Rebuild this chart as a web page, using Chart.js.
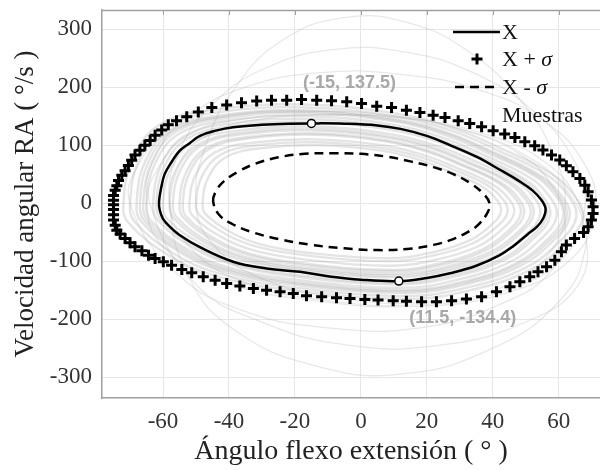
<!DOCTYPE html>
<html><head><meta charset="utf-8">
<script src="https://cdn.jsdelivr.net/npm/chart.js@4"></script>
<style>html,body{margin:0;padding:0;background:#fff}</style>
</head><body>
<canvas id="c" width="600" height="470"></canvas>
<script>
// ---- data ----
const xTicks = [-60, -40, -20, 0, 20, 40, 60];
const yTicks = [-300, -200, -100, 0, 100, 200, 300];

// closed loops (last point joins back to first)
const meanCurve = [[-61.2,3],[-60.5,28],[-59.5,50],[-57.5,70],[-55,90],[-52,103],[-48.8,116],[-44,125],[-38.7,131],[-30,135],[-22,137],[-15,137.5],[-5,137],[5,134],[12,128],[20,116],[27,100],[35,80],[42,58],[48,38],[52,22],[54.8,5],[56,-10],[55.3,-26],[53.5,-40],[50.5,-54],[46,-75],[42,-90],[35,-108],[27,-121],[20,-129],[11.5,-134.4],[0,-132],[-10,-126],[-18.5,-118.5],[-28.6,-112.6],[-38.7,-101],[-48.8,-76],[-55,-55],[-58,-40],[-60,-27],[-61,-12]];

const minusSigma = [[-44.8,3],[-44,20],[-41.5,38],[-37,55],[-32,68],[-25,79],[-17,85],[-8,86],[0,85],[8,80],[15,72],[22,62],[28,50],[33,35],[37,17],[39,0],[38.5,-15],[36,-35],[33,-48],[28,-62],[22,-72],[14,-79],[5,-81],[-5,-78],[-15,-72],[-25,-62],[-33,-50],[-39,-36],[-43,-20]];

const plusSigma = [[-75,-3],[-75,5],[-75,13],[-74.5,22],[-74,30],[-73.5,39],[-72.5,48],[-71.5,56],[-70.5,65],[-69.5,74],[-68.5,83],[-67,91],[-65.5,100],[-63.9,108],[-62.4,117],[-60.4,126],[-58.4,135],[-55.9,142],[-52.8,149],[-49.3,157],[-45.2,165],[-40.7,169],[-36.2,173],[-31.6,176],[-27.1,177.6],[-22.5,177.6],[-18,178.8],[-13.4,177.6],[-8.9,176.4],[-4.3,174.7],[0.2,171.8],[4.8,167.2],[9.3,164.9],[13.8,160.3],[17.9,156.3],[21.9,151.7],[25.5,147.7],[29.5,142],[33,137.4],[36.6,131.6],[40.1,124.7],[43.6,119],[46.7,113.2],[49.7,105.7],[52.7,98.9],[55.2,91.4],[57.8,82.8],[60.3,74.2],[62.3,64.4],[64.3,54],[66.4,42.5],[67.9,31],[68.9,19.5],[69.9,5.2],[70.4,-6.3],[70.4,-17.8],[69.9,-29.3],[68.9,-40.8],[67.5,-50.5],[64.8,-60.9],[62.3,-72.4],[60.8,-83.9],[58.8,-98.3],[56.3,-109.8],[53.7,-118.4],[51.2,-127],[48.2,-135.6],[45.2,-144.3],[41.1,-152.9],[36.6,-161.5],[32,-165.5],[27.5,-168.4],[22.9,-170.1],[18.4,-170.1],[13.8,-169],[9.8,-168.4],[5.2,-167.2],[1.2,-166.1],[-3.3,-164.4],[-7.4,-163.2],[-11.9,-161.5],[-16.5,-159.8],[-20.5,-155.7],[-24.5,-152.9],[-28.6,-150],[-32.6,-147.1],[-36.7,-143.1],[-40.7,-138.5],[-44.2,-132.8],[-47.8,-127],[-51.3,-120.1],[-54.3,-114.4],[-57.4,-106.9],[-59.9,-101.1],[-62.4,-95.4],[-64.4,-89.7],[-66.4,-82.2],[-68.5,-75.3],[-70,-68.4],[-71.5,-60.9],[-73,-53.4],[-74,-46.6],[-74.5,-38],[-75,-29],[-75,-20],[-75,-11]];

// individual sample cycles ("Muestras")
const sampleA = [[-66,0],[-63.4,70],[-55.8,124],[-40.4,147],[-16.1,155],[10.8,140],[26.2,116],[39,85],[51.8,50],[58.2,19],[61.4,-22],[55.6,-67.5],[46.6,-105],[31.3,-135],[13.4,-150],[-21.2,-135],[-40.4,-114],[-53.2,-82],[-64.7,-30]];
const sampleB = [[-52,0],[-50,50],[-44.1,88],[-32.2,104.5],[-13.4,110],[7.4,99],[19.3,82.5],[29.2,60.5],[39.1,35],[44,13],[46.5,-16],[42.1,-48.6],[35.1,-75.6],[23.2,-97],[9.4,-108],[-17.4,-97],[-32.2,-82],[-42.1,-59],[-51,-22]];
const sampleC = [[-70,0],[-67.3,74],[-59.1,132],[-42.8,157],[-17,165],[11.6,148.5],[27.9,124],[41.5,91],[55.1,53],[61.9,20],[65.3,-24],[59.2,-72],[49.7,-112],[33.4,-144],[14.3,-160],[-22.4,-144],[-42.8,-121.6],[-56.4,-88],[-68.6,-32]];
const sampleD = [[-57,0],[-54.8,56],[-48.3,100],[-35.2,119],[-14.5,125],[8.4,112.5],[21.5,94],[32.4,69],[43.3,40],[48.7,15],[51.5,-18],[46.6,-55],[38.9,-85],[25.8,-110],[10.6,-122],[-18.9,-110],[-35.2,-92.7],[-46.1,-67],[-55.9,-24]];
const sampleE = [[-63,0],[-60.6,65],[-53.3,116],[-38.8,138],[-15.8,145],[9.6,130.5],[24.1,109],[36.2,80],[48.3,46],[54.4,17],[57.4,-21],[52,-63],[43.5,-98],[29,-126],[12,-140],[-20.7,-126],[-38.8,-106],[-50.9,-77],[-61.8,-28]];
const sampleF = [[-48,0],[-46.2,45],[-40.7,80],[-29.8,95],[-12.5,100],[6.6,90],[17.5,75],[26.6,55],[35.7,32],[40.3,12],[42.5,-14],[38.5,-43],[32.1,-66.5],[21.2,-85.5],[8.4,-95],[-16.2,-85.5],[-29.8,-72],[-38.9,-52],[-47.1,-19]];
const sampleG = [[-68,0],[-65.4,72],[-57.4,128],[-41.6,152],[-16.5,160],[11.2,144],[27,120],[40.2,88],[53.4,51],[60,19],[63.3,-23],[57.4,-70],[48.2,-108.5],[32.3,-139.5],[13.8,-155],[-21.8,-139.5],[-41.6,-118],[-54.8,-85],[-66.7,-31]];
const sampleH = [[-60,0],[-57.7,59],[-50.8,106],[-37,125],[-15.2,132],[9,119],[22.8,99],[34.3,73],[45.8,42],[51.6,16],[54.4,-19],[49.3,-57.6],[41.2,-90],[27.4,-115],[11.3,-128],[-19.8,-115],[-37,-97],[-48.5,-70],[-58.9,-26]];
const sampleI = [[-54,0],[-51.9,53],[-45.8,94],[-33.4,112],[-13.8,118],[7.8,106],[20.2,88.5],[30.5,65],[40.8,38],[45.9,14],[48.5,-17],[43.9,-51.8],[36.6,-80.5],[24.3,-103.5],[9.9,-115],[-17.9,-103.5],[-33.4,-87.4],[-43.7,-63],[-53,-23]];
const sampleJ = [[-72,0],[-69.2,76],[-60.8,136],[-44,161.5],[-17.4,170],[12,153],[28.8,127.5],[42.8,93.5],[56.8,54],[63.8,20],[67.3,-25],[61,-74],[51.2,-115.5],[34.4,-148.5],[14.8,-165],[-23,-148.5],[-44,-125.4],[-58,-91],[-70.6,-33]];
const sampleK = [[-65,0],[-62.5,67.5],[-55,120],[-40,142.5],[-16.3,150],[10,135],[25,112.5],[37.5,82.5],[50,48],[56.3,18],[59.4,-22],[53.8,-65.7],[45,-102],[30,-131],[12.5,-146],[-21.3,-131],[-40,-111],[-52.5,-80],[-63.8,-29]];
const sampleL = [[-50,0],[-48.1,47],[-42.4,84],[-31,100],[-13,105],[7,94.5],[18.4,79],[27.9,58],[37.4,34],[42.2,12.6],[44.5,-15],[40.3,-45],[33.6,-70],[22.2,-90],[8.9,-100],[-16.8,-90],[-31,-76],[-40.5,-55],[-49,-20]];
const sampleM = [[-62,0],[-59.6,63],[-52.5,112],[-38.2,133],[-15.6,140],[9.4,126],[23.7,105],[35.6,77],[47.5,45],[53.4,17],[56.4,-20.5],[51,-61.7],[42.7,-96],[28.4,-123],[11.8,-137],[-20.4,-123],[-38.2,-104],[-50.1,-75],[-60.8,-27]];
const sampleN = [[-58,0],[-55.8,57.6],[-49.1,102],[-35.8,121.6],[-14.7,128],[8.6,115],[21.9,96],[33,70.4],[44.1,41],[49.7,15.4],[52.4,-18.8],[47.5,-56],[39.7,-87.5],[26.4,-112.5],[10.8,-125],[-19.2,-112.5],[-35.8,-95],[-46.9,-69],[-56.9,-25]];
const sampleO = [[-67,0],[-64.4,71],[-56.6,126],[-41,150],[-16.3,158],[11,142],[26.6,118.5],[39.6,87],[52.6,50.5],[59.1,19],[62.4,-23],[56.5,-68.4],[47.4,-106],[31.8,-137],[13.6,-152],[-21.5,-137],[-41,-115.5],[-54,-84],[-65.7,-30]];
const sampleP = [[-55,0],[-52.9,54],[-46.6,96],[-34,114],[-14,120],[8,108],[20.6,90],[31.1,66],[41.6,38.4],[46.9,14.4],[49.5,-17.7],[44.8,-53],[37.4,-82.6],[24.8,-106],[10.1,-118],[-18.3,-106],[-34,-89.7],[-44.5,-65],[-54,-23.6]];
const sampleQ = [[-50,0],[-47,100],[-38,200],[-24,280],[-5,320],[15,310],[33,260],[48,180],[58,90],[62,0],[58,-80],[45,-140],[22,-170],[-5,-165],[-30,-130],[-45,-70]];
const sampleR = [[-58,0],[-55,90],[-45,170],[-30,230],[-8,265],[14,260],[34,225],[52,160],[64,80],[68,0],[62,-90],[44,-150],[18,-175],[-10,-168],[-36,-135],[-52,-75]];
const sampleS = [[-65,0],[-62,85],[-52,150],[-35,200],[-12,225],[12,222],[36,195],[56,140],[68,65],[71,-10],[64,-95],[44,-155],[16,-178],[-14,-168],[-42,-135],[-60,-75]];
const sampleT = [[-58,0],[-55,70],[-46,118],[-30,145],[-8,152],[16,145],[38,118],[56,70],[66,0],[68,-80],[60,-170],[40,-250],[12,-295],[-14,-280],[-38,-220],[-52,-130]];
const sampleU = [[-64,0],[-61,65],[-52,118],[-36,145],[-14,152],[10,148],[32,125],[50,82],[62,25],[68,-50],[66,-140],[50,-205],[24,-245],[-4,-245],[-30,-205],[-50,-140]];
const sampleV = [[-70,0],[-67,70],[-58,122],[-40,150],[-16,158],[8,152],[30,128],[48,85],[58,30],[62,-40],[58,-115],[42,-175],[18,-215],[-10,-215],[-36,-185],[-56,-120]];
const bandSamples = [sampleA,sampleB,sampleC,sampleD,sampleE,sampleF,sampleG,sampleH,sampleI,sampleJ,sampleK,sampleL,sampleM,sampleN,sampleO,sampleP];
const outlierSamples = [sampleQ,sampleR,sampleS,sampleT,sampleU,sampleV];

const markedPoints = [[-15,137.5],[11.5,-134.4]];
const markedLabels = ['(-15, 137.5)', '(11.5, -134.4)'];
const legendLabels = ['X', 'X + σ', 'X - σ', 'Muestras'];

// ---- chart ----
const pts = a => a.map(([x,y]) => ({x, y}));
const SERIF = "'Liberation Serif', 'Times New Roman', serif";
Chart.defaults.font.family = SERIF;

const datasets = [
  { label: 'marked', data: pts(markedPoints), showLine: false, pointRadius: 4, pointStyle: 'circle',
    pointBackgroundColor: '#fff', pointBorderColor: '#000', pointBorderWidth: 1.5, order: 0 },
  { label: legendLabels[1], data: pts(plusSigma), showLine: false, pointStyle: 'cross', pointRadius: 5.5,
    pointBorderWidth: 3, pointBorderColor: '#000', pointBackgroundColor: '#000', order: 1 },
  { label: legendLabels[0], data: pts(meanCurve), showLine: true, pointRadius: 0, borderColor: '#000',
    borderWidth: 2.5, tension: 0.4, order: 2, closed: true },
  { label: legendLabels[2], data: pts(minusSigma), showLine: true, pointRadius: 0, borderColor: '#000',
    borderWidth: 2.5, borderDash: [9, 6], tension: 0.4, order: 3, closed: true },
];
bandSamples.forEach((s, i) => datasets.push({
  label: legendLabels[3], data: pts(s), showLine: true, pointRadius: 0,
  borderColor: 'rgba(165,165,165,0.3)', borderWidth: 2.4, tension: 0.4, order: 10 + i, closed: true
}));
outlierSamples.forEach((s, i) => datasets.push({
  label: legendLabels[3], data: pts(s), showLine: true, pointRadius: 0,
  borderColor: 'rgba(190,190,190,0.35)', borderWidth: 1.3, tension: 0.45, order: 40 + i, closed: true
}));

const closeLoops = {
  id: 'closeLoops',
  afterDatasetsUpdate(chart) {
    chart.data.datasets.forEach((ds, i) => {
      if (!ds.closed) return;
      const line = chart.getDatasetMeta(i).dataset;
      if (!line) return;
      line._loop = true; line._fullLoop = true;
      delete line._segments; delete line._path; line._pointsUpdated = false;
    });
  }
};

const overlay = {
  id: 'overlay',
  afterDraw(chart) {
    const {ctx, chartArea: a, scales: {x, y}} = chart;
    ctx.save();
    ctx.strokeStyle = '#a0a0a0'; ctx.lineWidth = 1.5;
    ctx.beginPath(); ctx.moveTo(a.left, a.top + 0.5); ctx.lineTo(a.right, a.top + 0.5); ctx.stroke();
    ctx.lineWidth = 1;
    xTicks.forEach(v => { const px = Math.round(x.getPixelForValue(v)) + 0.5;
      ctx.beginPath(); ctx.moveTo(px, a.top); ctx.lineTo(px, a.top + 5); ctx.stroke(); });
    // annotation labels
    ctx.fillStyle = '#a8a8a8';
    ctx.font = "bold 18px 'Liberation Sans', Arial, sans-serif";
    ctx.textAlign = 'center'; ctx.textBaseline = 'middle';
    const offs = [[38, -40], [64, 37]];
    markedPoints.forEach(([vx, vy], i) => {
      ctx.fillText(markedLabels[i], x.getPixelForValue(vx) + offs[i][0], y.getPixelForValue(vy) + offs[i][1]);
    });
    // legend
    ctx.fillStyle = '#111'; ctx.strokeStyle = '#000';
    ctx.textAlign = 'left';
    const tx = 502;
    const rows = [32, 59, 87, 115];
    ctx.lineWidth = 2.5; ctx.setLineDash([]);
    ctx.beginPath(); ctx.moveTo(453, rows[0]); ctx.lineTo(500, rows[0]); ctx.stroke();
    ctx.lineWidth = 3;
    ctx.beginPath(); ctx.moveTo(471.5, rows[1]); ctx.lineTo(482.5, rows[1]);
    ctx.moveTo(477, rows[1] - 5.5); ctx.lineTo(477, rows[1] + 5.5); ctx.stroke();
    ctx.lineWidth = 2.5; ctx.setLineDash([9, 6]);
    ctx.beginPath(); ctx.moveTo(455, rows[2]); ctx.lineTo(500, rows[2]); ctx.stroke();
    ctx.setLineDash([]);
    const drawLabel = (txt, yy) => {
      const idx = txt.indexOf('σ');
      ctx.font = "22px " + SERIF;
      if (idx < 0) { ctx.fillText(txt, tx, yy); return; }
      const pre = txt.slice(0, idx);
      ctx.fillText(pre, tx, yy);
      const w = ctx.measureText(pre).width;
      ctx.font = "italic 22px " + SERIF;
      ctx.fillText('σ', tx + w, yy);
    };
    legendLabels.forEach((t, i) => drawLabel(t, rows[i] + 1));
    ctx.restore();
  }
};

new Chart(document.getElementById('c'), {
  type: 'scatter',
  data: { datasets },
  options: {
    responsive: false, animation: false, events: [],
    layout: { autoPadding: false, padding: { top: 10, right: 0, left: 0, bottom: 0 } },
    plugins: { legend: { display: false }, tooltip: { enabled: false } },
    scales: {
      x: {
        min: -78.5, max: 72.5,
        afterBuildTicks: s => { s.ticks = xTicks.map(v => ({value: v})); },
        afterFit: s => { s.height = 72; s.paddingLeft = 0; s.paddingRight = 0; },
        grid: { color: '#e6e6e6', lineWidth: 1, drawTicks: false },
        border: { color: '#a0a0a0', width: 1.5 },
        ticks: { padding: 10, color: '#333', font: { family: SERIF, size: 23 } },
        title: { display: true, text: 'Ángulo flexo extensión ( ° )', color: '#222',
          font: { family: SERIF, size: 28 }, padding: { top: 0, bottom: 2 } }
      },
      y: {
        min: -336, max: 333,
        afterBuildTicks: s => { s.ticks = yTicks.map(v => ({value: v})); },
        afterFit: s => { s.width = 102; s.paddingTop = 0; s.paddingBottom = 0; },
        grid: { color: '#e6e6e6', lineWidth: 1, drawTicks: false },
        border: { color: '#a0a0a0', width: 1.5 },
        ticks: { padding: 10, color: '#333', font: { family: SERIF, size: 23 } },
        title: { display: true, text: 'Velocidad angular RA ( °/s )', color: '#222',
          font: { family: SERIF, size: 27 }, padding: { top: 10, bottom: 0 } }
      }
    }
  },
  plugins: [closeLoops, overlay]
});
</script>
</body></html>
